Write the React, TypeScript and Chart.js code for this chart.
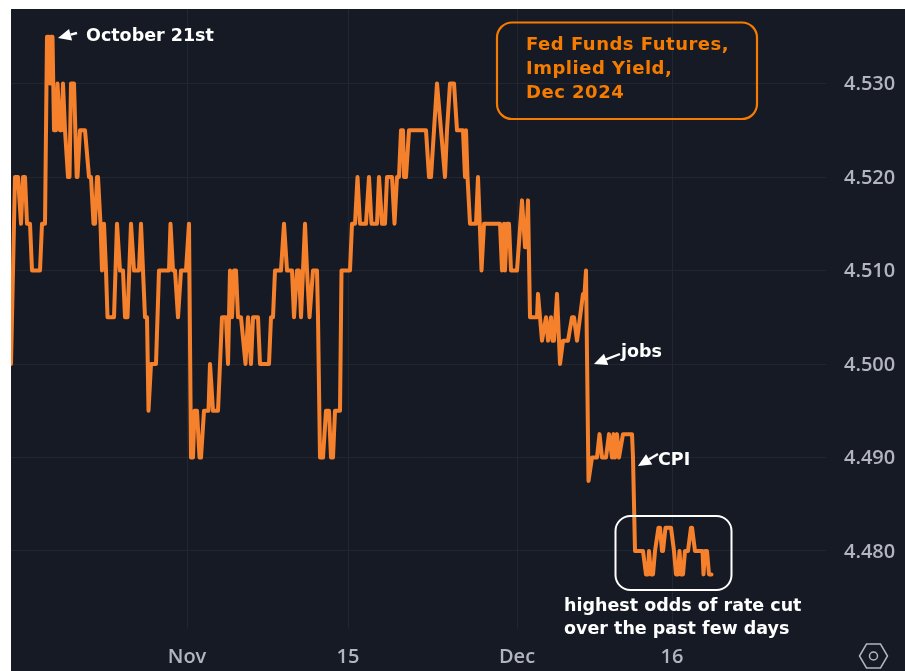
import React, { useEffect, useRef } from "react";
import { Chart, registerables } from "chart.js";

Chart.register(...registerables);

const bars = [
  11, 15, 18, 21, 23, 25, 27, 30, 32, 40, 42, 45, 47, 49, 50, 51, 52.5, 54, 56, 57.5, 60, 61.5, 63, 65, 68, 69.5, 71, 74, 76.7, 77.5, 80, 85, 89, 91, 93.5, 95, 97, 98, 100.5, 102,
  104, 106, 107.5, 114, 117, 120, 123, 125, 127.5, 131, 134, 139, 141, 145, 147, 148.5, 151, 156, 159, 169, 170.5, 173, 175, 178, 181, 186, 189, 191, 193, 194.5, 197, 199.5, 201, 204, 208.5, 210, 213, 218, 222, 226, 228,
  230, 232, 234, 236, 238, 241, 245.5, 248, 251, 253, 258, 260, 269, 271, 273, 275, 281, 284, 287, 292, 294, 297, 299, 301,
  303, 305, 307, 309.5, 313, 317, 318, 320, 323, 326, 329, 331, 333, 335, 340, 341.5, 350, 352, 355, 357.5, 360, 366, 369, 371.5, 377, 379, 382, 385, 387, 392, 394.5, 397, 399, 401, 403, 404, 406, 409, 426, 429, 431, 434, 437, 441, 445, 447, 450, 454, 457, 463, 465, 466, 467.5, 470, 476, 478, 481.5, 484, 500, 502, 504, 505, 507, 509, 511, 517, 522, 525, 526, 528, 530, 537, 538, 542, 546, 548, 551, 552.5, 554, 557, 560, 563, 568, 572, 574, 577, 583, 584.5, 586, 588.5, 592, 597, 599.5, 602, 606, 609, 612, 613.5, 615, 617, 619, 623, 632, 633, 635, 643, 646, 648, 649, 651, 653, 655, 658.5, 660, 662, 663, 665.5, 671, 674, 676, 678, 679.5, 681, 683, 685, 688, 691, 692, 695, 702.5, 703.5, 705, 707, 709, 711.5,
];

const impliedYield = [
  4.5, 4.52, 4.52, 4.515, 4.52, 4.52, 4.515, 4.515, 4.51, 4.51, 4.515, 4.515, 4.535, 4.535, 4.53, 4.535, 4.535, 4.525, 4.525, 4.53, 4.525, 4.525, 4.53, 4.525, 4.52, 4.52, 4.53, 4.53, 4.52, 4.52, 4.525, 4.525, 4.52, 4.52, 4.515, 4.515, 4.52, 4.52, 4.515, 4.51,
  4.515, 4.51, 4.505, 4.505, 4.515, 4.51, 4.51, 4.505, 4.505, 4.515, 4.51, 4.51, 4.515, 4.505, 4.505, 4.495, 4.5, 4.5, 4.51, 4.51, 4.515, 4.51, 4.51, 4.505, 4.51, 4.51, 4.515, 4.49, 4.49, 4.495, 4.495, 4.49, 4.49, 4.495, 4.495, 4.5, 4.495, 4.495, 4.505, 4.505, 4.5,
  4.51, 4.505, 4.51, 4.51, 4.505, 4.505, 4.5, 4.505, 4.5, 4.505, 4.505, 4.5, 4.5, 4.505, 4.505, 4.51, 4.51, 4.515, 4.51, 4.51, 4.505, 4.51, 4.51, 4.505,
  4.51, 4.515, 4.51, 4.505, 4.51, 4.51, 4.505, 4.49, 4.49, 4.495, 4.495, 4.49, 4.49, 4.495, 4.495, 4.51, 4.51, 4.515, 4.515, 4.52, 4.515, 4.515, 4.52, 4.515, 4.515, 4.52, 4.515, 4.515, 4.52, 4.52, 4.515, 4.52, 4.52, 4.525, 4.525, 4.52, 4.52, 4.525, 4.525, 4.52, 4.52, 4.525, 4.53, 4.525, 4.52, 4.525, 4.53, 4.53, 4.525, 4.525, 4.52, 4.525, 4.52, 4.515, 4.515, 4.52, 4.51, 4.515, 4.515, 4.51, 4.515, 4.51, 4.515, 4.515, 4.51, 4.51, 4.5175, 4.5125, 4.5125, 4.5175, 4.505, 4.505, 4.5075, 4.5025, 4.505, 4.5025, 4.505, 4.5025, 4.5025, 4.5075, 4.5, 4.5025, 4.5025, 4.505, 4.505, 4.5025, 4.5075, 4.5075, 4.51, 4.4875, 4.49, 4.49, 4.4925, 4.49, 4.49, 4.4925, 4.49, 4.4925, 4.49, 4.4925, 4.49, 4.4925, 4.4925, 4.49, 4.48, 4.48, 4.4775, 4.4775, 4.48, 4.4775, 4.4775, 4.48, 4.4825, 4.4825, 4.48, 4.48, 4.4825, 4.4825, 4.48, 4.4775, 4.4775, 4.48, 4.4775, 4.4775, 4.48, 4.48, 4.4825, 4.4825, 4.48, 4.48, 4.4775, 4.48, 4.48, 4.4775, 4.4775,
];

const yTicks = [4.48, 4.49, 4.5, 4.51, 4.52, 4.53];
const xTickBars = [187, 348, 517, 672];
const xTickLabels = ["Nov", "15", "Dec", "16"];

const ORANGE = "#f6812d";
const BOX_ORANGE = "#f57c00";
const UI_FONT = '"Open Sans", "Noto Sans", sans-serif';
const NOTE_FONT = '"DejaVu Sans", Verdana, sans-serif';

function roundedBox(ctx: CanvasRenderingContext2D, x: number, y: number, w: number, h: number, r: number, color: string, lw: number) {
  ctx.beginPath();
  ctx.roundRect(x, y, w, h, r);
  ctx.strokeStyle = color;
  ctx.lineWidth = lw;
  ctx.stroke();
}

function arrow(ctx: CanvasRenderingContext2D, x1: number, y1: number, x2: number, y2: number) {
  const a = Math.atan2(y2 - y1, x2 - x1);
  const len = 13;
  const bx = x2 - Math.cos(a) * len;
  const by = y2 - Math.sin(a) * len;
  ctx.strokeStyle = "#ffffff";
  ctx.fillStyle = "#ffffff";
  ctx.lineWidth = 2.4;
  ctx.beginPath();
  ctx.moveTo(x1, y1);
  ctx.lineTo(bx, by);
  ctx.stroke();
  ctx.beginPath();
  ctx.moveTo(x2, y2);
  ctx.lineTo(bx - Math.sin(a) * 6, by + Math.cos(a) * 6);
  ctx.lineTo(bx + Math.sin(a) * 6, by - Math.cos(a) * 6);
  ctx.closePath();
  ctx.fill();
}

const annotations = {
  id: "annotations",
  afterDatasetsDraw(chart: any) {
    const ctx: CanvasRenderingContext2D = chart.ctx;
    ctx.save();
    ctx.translate(-11, -9);
    ctx.textBaseline = "middle";
    ctx.textAlign = "left";

    roundedBox(ctx, 497, 22.5, 260, 96.5, 15, BOX_ORANGE, 2.2);
    ctx.fillStyle = BOX_ORANGE;
    ctx.font = `bold 18px ${NOTE_FONT}`;
    (ctx as any).letterSpacing = "0.5px";
    ctx.fillText("Fed Funds Futures,", 526, 45);
    ctx.fillText("Implied Yield,", 526, 69);
    ctx.fillText("Dec 2024", 526, 93);

    ctx.fillStyle = "#ffffff";
    ctx.font = `bold 17.5px ${NOTE_FONT}`;
    (ctx as any).letterSpacing = "0px";
    ctx.fillText("October 21st", 86, 36);
    ctx.fillText("jobs", 621, 352);
    ctx.fillText("CPI", 658, 460);
    ctx.fillText("highest odds of rate cut", 564, 606);
    ctx.fillText("over the past few days", 564, 629);

    arrow(ctx, 77, 33, 58, 38);
    arrow(ctx, 620, 354, 594, 364);
    arrow(ctx, 658, 454, 638, 466);

    roundedBox(ctx, 615.5, 516, 116, 74, 15, "#ffffff", 2);

    // settings glyph of the price axis
    const cx = 873.5;
    const cy = 656;
    ctx.strokeStyle = "#b2b5be";
    ctx.lineWidth = 1.5;
    ctx.beginPath();
    ctx.moveTo(cx - 14, cy);
    ctx.lineTo(cx - 7, cy - 12);
    ctx.lineTo(cx + 7, cy - 12);
    ctx.lineTo(cx + 14, cy);
    ctx.lineTo(cx + 7, cy + 12);
    ctx.lineTo(cx - 7, cy + 12);
    ctx.closePath();
    ctx.stroke();
    ctx.beginPath();
    ctx.arc(cx, cy, 4, 0, Math.PI * 2);
    ctx.stroke();
    ctx.restore();
  },
};

export default function App() {
  const ref = useRef<HTMLCanvasElement>(null);

  useEffect(() => {
    document.body.style.margin = "0";
    document.body.style.background = "#ffffff";
    const chart = new Chart(ref.current!, {
      type: "line",
      data: {
        datasets: [
          {
            data: bars.map((x, i) => ({ x, y: impliedYield[i] })),
            borderColor: ORANGE,
            borderWidth: 4,
            pointRadius: 0,
            tension: 0,
            borderJoinStyle: "round",
            borderCapStyle: "round",
            parsing: false,
          } as any,
        ],
      },
      options: {
        responsive: false,
        animation: false,
        layout: { padding: 0 },
        plugins: { legend: { display: false }, tooltip: { enabled: false }, title: { display: false } },
        scales: {
          x: {
            type: "linear",
            min: 11,
            max: 826,
            border: { display: false },
            grid: { color: "#22262f", lineWidth: 1, drawTicks: false },
            afterBuildTicks: (s: any) => {
              s.ticks = xTickBars.map((value) => ({ value }));
            },
            afterFit: (s: any) => {
              s.height = 43;
              s.paddingLeft = 0;
              s.paddingRight = 0;
            },
            ticks: {
              autoSkip: false,
              maxRotation: 0,
              padding: 17,
              color: "#b2b5be",
              font: { family: UI_FONT, size: 20, weight: 600 },
              callback: (v: any) => xTickLabels[xTickBars.indexOf(Number(v))] ?? "",
            },
          },
          y: {
            position: "right",
            min: 4.53 - 544.5 / 9350,
            max: 4.53 + 74.5 / 9350,
            border: { display: false },
            grid: { color: "#22262f", lineWidth: 1, drawTicks: false },
            afterBuildTicks: (s: any) => {
              s.ticks = yTicks.map((value) => ({ value }));
            },
            afterFit: (s: any) => {
              s.width = 79;
              s.paddingTop = 0;
              s.paddingBottom = 0;
            },
            ticks: {
              autoSkip: false,
              padding: 18,
              labelOffset: 1,
              color: "#b2b5be",
              font: { family: UI_FONT, size: 20, weight: 600 },
              callback: (v: any) => Number(v).toFixed(3),
            },
          },
        },
      },
      plugins: [annotations],
    } as any);
    return () => chart.destroy();
  }, []);

  return (
    <div style={{ position: "relative", width: 905, height: 671, overflow: "hidden", background: "#ffffff" }}>
      <canvas
        ref={ref}
        width={894}
        height={662}
        style={{ position: "absolute", left: 11, top: 9, width: 894, height: 662, background: "#161a25", display: "block" }}
      />
    </div>
  );
}
